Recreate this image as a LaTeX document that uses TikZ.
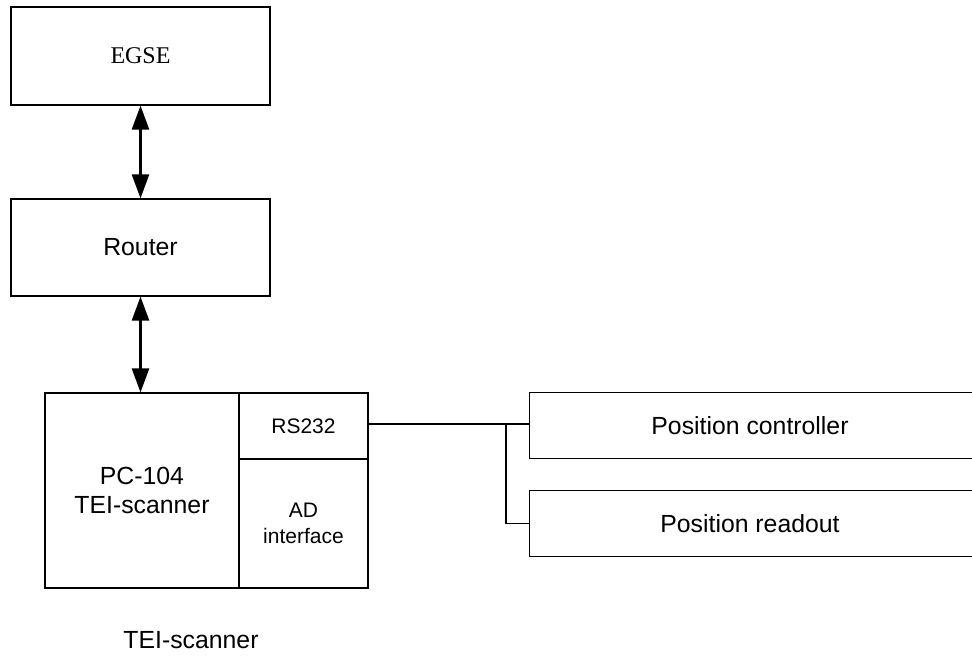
\documentclass[tikz,border=0pt]{standalone}
\usepackage{fontspec}
\setmainfont{Liberation Sans}
\newfontfamily\timesfont{Liberation Serif}
\usetikzlibrary{arrows.meta}
\begin{document}
\begin{tikzpicture}[x=1pt,y=-1pt,
  box/.style={draw, line width=1.2pt, rectangle, inner sep=0pt, align=center},
  openbox/.style={rectangle, inner sep=0pt, align=center},
  conn/.style={line width=1.2pt},
  biarrow/.style={line width=2.6pt, {Triangle[width=17pt,length=24pt]}-{Triangle[width=17pt,length=24pt]}},
  big/.style={font=\fontsize{24.8}{29}\selectfont},
  small/.style={font=\fontsize{21}{26}\selectfont}]
\useasboundingbox (0,0) rectangle (972,666);
\clip (0,0) rectangle (972,666);
\node[box, minimum width=259pt, minimum height=98pt, font=\timesfont\fontsize{24}{28}\selectfont] (egse) at (140.5,56) {EGSE};
\node[box, big, minimum width=259pt, minimum height=97pt] (router) at (140.5,247.5) {Router};
\node[box, big, minimum width=194pt, minimum height=195pt] (pc) at (142,490.5) {PC-104\\TEI-scanner};
\node[box, small, minimum width=129pt, minimum height=66pt] (rs) at (303.5,426) {RS232};
\node[box, small, minimum width=129pt, minimum height=129pt] (ad) at (303.5,523.5) {AD\\interface};
\node[openbox, big, minimum width=440pt, minimum height=65pt] (ctrl) at (750,425.5) {Position controller};
\node[openbox, big, minimum width=440pt, minimum height=65pt] (read) at (750,523.5) {Position readout};
\node[big] (cap) at (191,640) {TEI-scanner};
\draw[conn] ([xshift=20pt]ctrl.north east) -- (ctrl.north west) -- (ctrl.south west) -- ([xshift=20pt]ctrl.south east);
\draw[conn] ([xshift=20pt]read.north east) -- (read.north west) -- (read.south west) -- ([xshift=20pt]read.south east);
\draw[biarrow] (egse.south) -- (router.north);
\draw[biarrow] (router.south) -- (router.south |- pc.north);
\coordinate (j) at (506,424);
\draw[conn] (rs.east |- j) -- (ctrl.west |- j);
\draw[conn] (j) |- (read.west);
\end{tikzpicture}
\end{document}
